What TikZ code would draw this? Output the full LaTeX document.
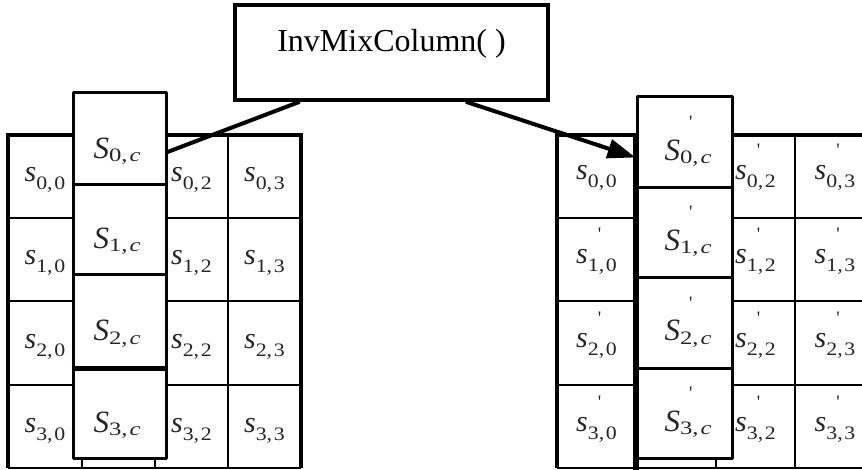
\documentclass[tikz,border=0pt]{standalone}
\usepackage{fontspec}
\usepackage{graphicx}
\setmainfont{Liberation Serif}
\usetikzlibrary{arrows.meta,calc}
\newcommand{\subf}{\fontsize{19}{19}\selectfont}
\newcommand{\cellS}[2]{\fontsize{30}{30}\selectfont\textit{s}\raisebox{-8pt}{\scalebox{1.15}[1]{\subf #1,\hspace{1.5pt}#2}}}
\newcommand{\cellP}[2]{\fontsize{30}{30}\selectfont\textit{s}\rlap{\raisebox{23pt}{\subf\hspace{10pt}\textquotesingle}}\raisebox{-8pt}{\scalebox{1.15}[1]{\subf #1,\hspace{1.5pt}#2}}}
\newcommand{\colS}[1]{\fontsize{31}{31}\selectfont\textit{S}\raisebox{-3pt}{\scalebox{1.3}[1]{\subf #1,\hspace{1.5pt}\textit{c}}}}
\newcommand{\colP}[1]{\fontsize{31}{31}\selectfont\textit{S}\rlap{\raisebox{32pt}{\subf\hspace{9pt}\textquotesingle}}\raisebox{-3pt}{\scalebox{1.3}[1]{\subf #1,\hspace{1.5pt}\textit{c}}}}
\tikzset{
  frame/.style={line width=4pt},
  thin grid/.style={line width=2pt},
  colbox/.style={draw, fill=white, line width=3pt, line join=round, inner sep=0pt},
  celltext/.style={anchor=base, inner sep=0pt, text=black!85},
  coltext/.style={anchor=base, inner sep=0pt, text=black!85},
  titlebox/.style={draw, line width=3.5pt, inner sep=0pt},
  link/.style={line width=4pt}
}
\begin{document}
\begin{tikzpicture}[x=1pt,y=-1pt]
\useasboundingbox (0,0) rectangle (862,470);
\clip (0,0) rectangle (862,470);
% ---------- left state grid ----------
\foreach \yy in {218,301.5,385} \draw[thin grid] (8,\yy) -- (301,\yy);
\foreach \xx in {82,155,228} \draw[thin grid] (\xx,135) -- (\xx,468);
\draw[frame] (8,468) -- (8,135) -- (301,135) -- (301,468);
\draw[thin grid] (8,468) -- (301,468);
% ---------- right state grid ----------
\foreach \yy in {218,301.5,385} \draw[thin grid] (557,\yy) -- (862,\yy);
\foreach \xx in {716,795} \draw[thin grid] (\xx,135) -- (\xx,468);
\draw[frame] (557,468) -- (557,135) -- (862,135);
\draw[line width=6pt] (636,135) -- (636,470);
\draw[thin grid] (557,468) -- (862,468);
% ---------- left cell texts ----------
\node[celltext] (L00) at (45,182) {\cellS{0}{0}};
\node[celltext] (L10) at (45,265) {\cellS{1}{0}};
\node[celltext] (L20) at (45,348.5) {\cellS{2}{0}};
\node[celltext] (L30) at (45,432) {\cellS{3}{0}};
\node[celltext] (L02) at (191.5,182) {\cellS{0}{2}};
\node[celltext] (L12) at (191.5,265) {\cellS{1}{2}};
\node[celltext] (L22) at (191.5,348.5) {\cellS{2}{2}};
\node[celltext] (L32) at (191.5,432) {\cellS{3}{2}};
\node[celltext] (L03) at (264.5,182) {\cellS{0}{3}};
\node[celltext] (L13) at (264.5,265) {\cellS{1}{3}};
\node[celltext] (L23) at (264.5,348.5) {\cellS{2}{3}};
\node[celltext] (L33) at (264.5,432) {\cellS{3}{3}};
% ---------- right cell texts ----------
\node[celltext] (R00) at (596.5,180) {\cellP{0}{0}};
\node[celltext] (R10) at (596.5,264) {\cellP{1}{0}};
\node[celltext] (R20) at (596.5,347.5) {\cellP{2}{0}};
\node[celltext] (R30) at (596.5,431) {\cellP{3}{0}};
\node[celltext] (R02) at (755.5,180) {\cellP{0}{2}};
\node[celltext] (R12) at (755.5,264) {\cellP{1}{2}};
\node[celltext] (R22) at (755.5,347.5) {\cellP{2}{2}};
\node[celltext] (R32) at (755.5,431) {\cellP{3}{2}};
\node[celltext] (R03) at (835,180) {\cellP{0}{3}};
\node[celltext] (R13) at (835,264) {\cellP{1}{3}};
\node[celltext] (R23) at (835,347.5) {\cellP{2}{3}};
\node[celltext] (R33) at (835,431) {\cellP{3}{3}};
% ---------- left column boxes ----------
\node[colbox, minimum width=93pt, minimum height=92pt] (LC0) at (119.5,139) {};
\node[colbox, minimum width=93pt, minimum height=90pt] (LC1) at (119.5,230) {};
\node[colbox, minimum width=93pt, minimum height=92pt] (LC2) at (119.5,321) {};
\node[colbox, minimum width=93pt, minimum height=91pt] (LC3) at (119.5,412.5) {};
\draw[line width=4pt] (LC2.south west) -- (LC2.south east);
\node[coltext] (LT0) at (117,159) {\colS{0}};
\node[coltext] (LT1) at (117,249) {\colS{1}};
\node[coltext] (LT2) at (117,341) {\colS{2}};
\node[coltext] (LT3) at (117,432) {\colS{3}};
% ---------- right column boxes ----------
\node[colbox, minimum width=95pt, minimum height=91pt] (RC0) at (684.5,142.5) {};
\node[colbox, minimum width=95pt, minimum height=90pt] (RC1) at (684.5,233) {};
\node[colbox, minimum width=95pt, minimum height=90pt] (RC2) at (684.5,323) {};
\node[colbox, minimum width=95pt, minimum height=90pt] (RC3) at (684.5,413) {};
\draw[line width=6pt] (RC0.north west) ++(0,38) -- (RC3.south west);
\node[coltext] (RT0) at (688,161) {\colP{0}};
\node[coltext] (RT1) at (688,251) {\colP{1}};
\node[coltext] (RT2) at (688,341) {\colP{2}};
\node[coltext] (RT3) at (688,431) {\colP{3}};
% ---------- title ----------
\node[titlebox, minimum width=313pt, minimum height=95pt] (T) at (391.5,52.5) {};
\node[anchor=base, inner sep=0pt] (TT) at (391.5,52) {\fontsize{32}{32}\selectfont InvMixColumn( )};
% ---------- connectors ----------
\draw[link] ($(T.south west)!0.21!(T.south east)$) -- ([yshift=-13pt]LC0.east);
\draw[link, -{Triangle[length=28pt,width=19pt]}] ($(T.south west)!0.735!(T.south east)$) -- ([yshift=-15pt]RC0.west);
\end{tikzpicture}
\end{document}
